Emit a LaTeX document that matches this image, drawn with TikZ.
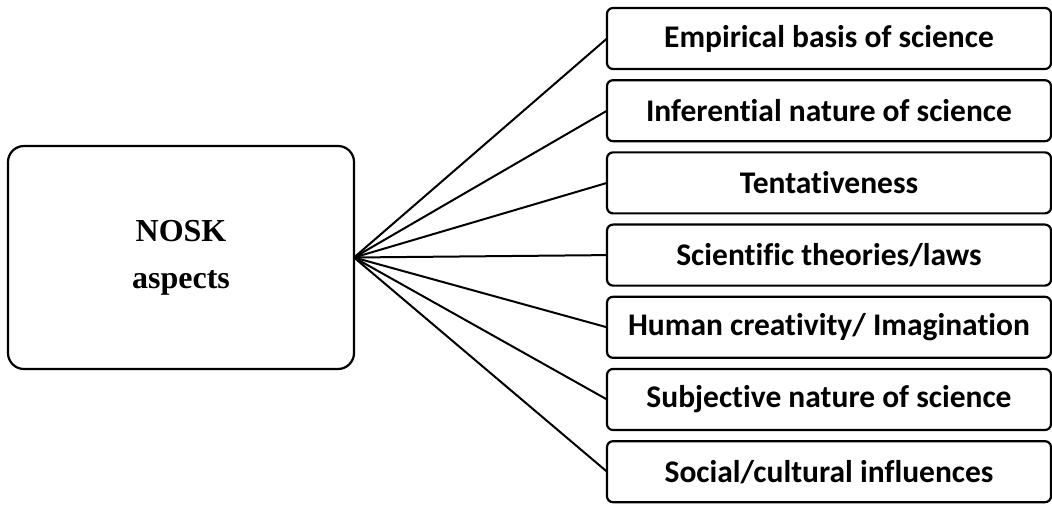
\documentclass[tikz,border=0pt]{standalone}
\usepackage{fontspec}
\setmainfont{Liberation Serif}
\newfontfamily\calib[Ligatures=NoCommon]{Carlito}
\begin{document}
\begin{tikzpicture}[x=1pt,y=1pt,
  aspectbox/.style={draw, line width=2.2pt, rounded corners=6pt, minimum width=444pt, minimum height=61pt, inner sep=0pt, outer sep=0pt, font=\calib\bfseries\fontsize{31.5}{36}\selectfont},
  mainbox/.style={draw, line width=2.2pt, rounded corners=16pt, minimum width=346pt, minimum height=223pt, inner sep=0pt, outer sep=0pt, align=center, font=\bfseries\fontsize{32}{47}\selectfont},
  conn/.style={line width=2pt}]
\useasboundingbox (0,0) rectangle (1052,504);
\node[mainbox] (main) at (181,246.5) {NOSK\\aspects};
\coordinate (hub) at (main.east);
\node[aspectbox] (a1) at (829,465.5) {Empirical basis of science};
\node[aspectbox] (a2) at (829,393.3) {Inferential nature of science};
\node[aspectbox] (a3) at (829,321.1) {Tentativeness};
\node[aspectbox] (a4) at (829,248.9) {Scientific theories/laws};
\node[aspectbox] (a5) at (829,176.7) {Human creativity/ Imagination};
\node[aspectbox] (a6) at (829,104.5) {Subjective nature of science};
\node[aspectbox] (a7) at (829,32.3) {Social/cultural influences};
\foreach \i in {1,...,7} \draw[conn] (hub) -- (a\i.west);
\end{tikzpicture}
\end{document}
